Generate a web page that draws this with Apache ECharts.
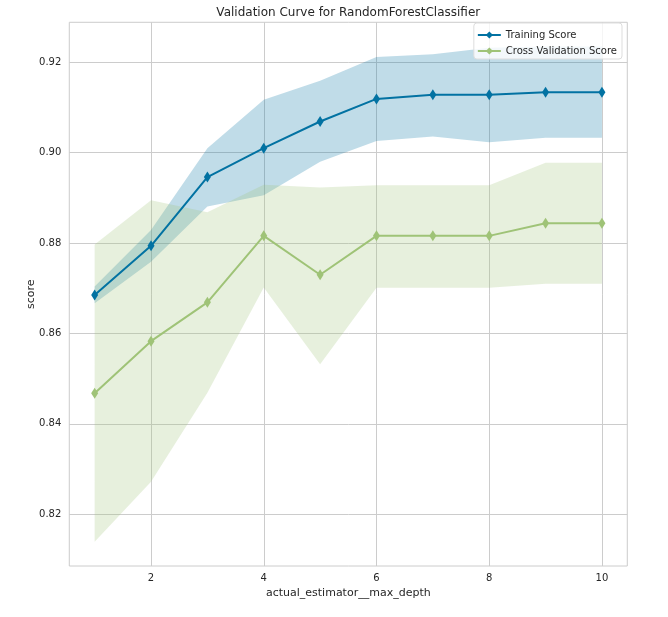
<!DOCTYPE html>
<html>
<head>
<meta charset="utf-8">
<script src="https://cdn.jsdelivr.net/npm/echarts@6/dist/echarts.min.js"></script>
<style>html,body{margin:0;padding:0;background:#fff;}#c{width:668px;height:617px;}</style>
</head>
<body>
<div id="c"></div>
<script>
const depths = [1, 2, 3, 4, 5, 6, 7, 8, 9, 10];
const trainMean = [0.8685, 0.8794, 0.8946, 0.9010, 0.9069, 0.9119, 0.9128, 0.9128, 0.9134, 0.9134];
const trainUpper = [0.8704, 0.8829, 0.9010, 0.9117, 0.9159, 0.9212, 0.9218, 0.9232, 0.9235, 0.9235];
const trainLower = [0.8667, 0.8759, 0.8881, 0.8906, 0.8980, 0.9026, 0.9036, 0.9023, 0.9033, 0.9033];
const cvMean = [0.8468, 0.8583, 0.8669, 0.8816, 0.8730, 0.8816, 0.8816, 0.8816, 0.8844, 0.8844];
const cvUpper = [0.8797, 0.8895, 0.8868, 0.8929, 0.8923, 0.8928, 0.8928, 0.8928, 0.8978, 0.8978];
const cvLower = [0.8139, 0.8272, 0.8469, 0.8702, 0.8532, 0.8701, 0.8701, 0.8701, 0.8710, 0.8710];
const xTicks = [2, 4, 6, 8, 10];
const yTicks = [0.82, 0.84, 0.86, 0.88, 0.90, 0.92];

const FONT = 'DejaVu Sans';
const TXT = '#262626';
const BLUE = '#0272a2';
const GREEN = '#9fc377';

function pairs(arr) { return depths.map((d, i) => [d, arr[i]]); }

function band(name, lo, up, color) {
  const data = depths.map((d, i) => [d, lo[i], up[i]]);
  return {
    type: 'custom', name: name, silent: true, z: 1,
    data: data,
    encode: { x: 0, y: [1, 2] },
    renderItem: function (params, api) {
      if (params.dataIndex !== 0) return null;
      const pts = [];
      for (let i = 0; i < data.length; i++) pts.push(api.coord([data[i][0], data[i][2]]));
      for (let i = data.length - 1; i >= 0; i--) pts.push(api.coord([data[i][0], data[i][1]]));
      return {
        type: 'polygon',
        shape: { points: pts },
        style: { fill: color, opacity: 0.25, stroke: 'none' }
      };
    }
  };
}

const chart = echarts.init(document.getElementById('c'), null, { renderer: 'canvas' });
chart.setOption({
  animation: false,
  backgroundColor: '#ffffff',
  textStyle: { fontFamily: FONT },
  graphic: [{
    type: 'text', x: 348.3, y: 13, z: 10,
    style: {
      text: 'Validation Curve for RandomForestClassifier',
      font: '12px "DejaVu Sans"', fill: TXT,
      textAlign: 'center', textVerticalAlign: 'middle'
    }
  }],
  legend: {
    data: ['Training Score', 'Cross Validation Score'],
    orient: 'vertical', right: 46, top: 23,
    padding: [7, 5, 3, 3], itemGap: 6,
    itemWidth: 23, itemHeight: 9,
    backgroundColor: 'rgba(255,255,255,0.8)',
    borderColor: '#dddddd', borderWidth: 1, borderRadius: 3,
    textStyle: { fontFamily: FONT, fontSize: 10, color: TXT }
  },
  grid: {
    left: 69.3, right: 40.7, top: 22.3, bottom: 51,
    show: true, borderColor: '#cccccc', borderWidth: 1, backgroundColor: 'transparent'
  },
  xAxis: {
    type: 'value', min: 0.55, max: 10.45,
    name: 'actual_estimator__max_depth', nameLocation: 'middle', nameGap: 21,
    nameTextStyle: { fontFamily: FONT, fontSize: 11, color: TXT },
    axisLine: { show: false },
    axisTick: { show: false, customValues: xTicks },
    axisLabel: { customValues: xTicks, margin: 7, fontFamily: FONT, fontSize: 10, color: TXT },
    splitLine: { show: true, lineStyle: { color: '#cccccc', width: 1 } }
  },
  yAxis: {
    type: 'value', min: 0.80856, max: 0.92885,
    name: 'score', nameLocation: 'middle', nameGap: 38, nameMoveOverlap: false,
    nameTextStyle: { fontFamily: FONT, fontSize: 11, color: TXT, verticalAlign: 'middle' },
    axisLine: { show: false },
    axisTick: { show: false, customValues: yTicks },
    axisLabel: { customValues: yTicks, margin: 8, fontFamily: FONT, fontSize: 10, color: TXT,
      formatter: v => v.toFixed(2) },
    splitLine: { show: true, lineStyle: { color: '#cccccc', width: 1 } }
  },
  series: [
    band('trainBand', trainLower, trainUpper, BLUE),
    band('cvBand', cvLower, cvUpper, GREEN),
    { name: 'Training Score', type: 'line', data: pairs(trainMean), z: 5,
      symbol: 'diamond', symbolSize: [7, 11], showAllSymbol: true,
      lineStyle: { color: BLUE, width: 2 }, itemStyle: { color: BLUE } },
    { name: 'Cross Validation Score', type: 'line', data: pairs(cvMean), z: 5,
      symbol: 'diamond', symbolSize: [7, 11], showAllSymbol: true,
      lineStyle: { color: GREEN, width: 2 }, itemStyle: { color: GREEN } }
  ]
});
</script>
</body>
</html>
